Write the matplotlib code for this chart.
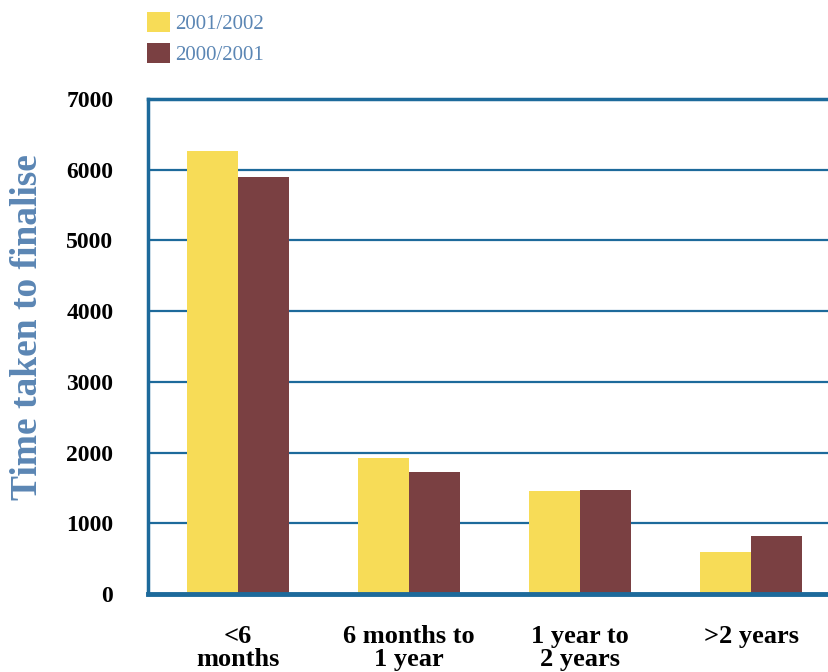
import matplotlib.pyplot as plt
import numpy as np
from matplotlib.patches import Patch

# Data
categories = ["<6\nmonths", "6 months to\n1 year", "1 year to\n2 years", ">2 years"]
series_names = ["2001/2002", "2000/2001"]
values_2001_2002 = [6260, 1930, 1450, 590]
values_2000_2001 = [5900, 1720, 1465, 815]
y_ticks = [0, 1000, 2000, 3000, 4000, 5000, 6000, 7000]

yellow = "#F7DC57"
maroon = "#7A4042"
blue = "#1D6A9B"
label_blue = "#5B86B4"

plt.rcParams['font.family'] = ['Liberation Serif', 'DejaVu Serif']

fig = plt.figure(figsize=(8.29, 6.72), dpi=100)
ax = fig.add_axes([148 / 829, 1 - 594 / 672, 1 - 148 / 829, (594 - 99) / 672])

x = np.arange(len(categories))
w = 0.3
ax.bar(x - w / 2, values_2001_2002, width=w, color=yellow, zorder=3)
ax.bar(x + w / 2, values_2000_2001, width=w, color=maroon, zorder=3)

ax.set_ylim(0, 7000)
ax.set_xlim(-0.526, 3.456)
ax.set_yticks(y_ticks)
ax.set_yticklabels([str(t) for t in y_ticks], fontsize=17, fontweight='bold')
ax.set_xticks(x)
ax.set_xticklabels(categories, fontsize=19, fontweight='bold', linespacing=1.0)
ax.tick_params(axis='y', length=0, pad=25)
ax.tick_params(axis='x', length=0, pad=22)

ax.yaxis.grid(True, color=blue, linewidth=1.6, zorder=0)
ax.set_axisbelow(True)
for side in ['left', 'top']:
    ax.spines[side].set_color(blue)
    ax.spines[side].set_linewidth(2.5)
ax.spines['right'].set_visible(False)
ax.spines['bottom'].set_color(blue)
ax.spines['bottom'].set_linewidth(3.5)
ax.spines['bottom'].set_zorder(4)

ax.set_ylabel("Time taken to finalise", fontsize=27, fontweight='bold',
              color=label_blue)
ax.yaxis.set_label_coords(-0.151, 0.539)

handles = [Patch(facecolor=yellow), Patch(facecolor=maroon)]
fig.legend(handles, series_names, loc='upper left',
           bbox_to_anchor=(147 / 829, 1 - 12 / 672), frameon=False,
           fontsize=15, labelcolor=label_blue, handlelength=1.1,
           handleheight=1.1, handletextpad=0.25, labelspacing=0.42,
           borderpad=0, borderaxespad=0)

fig.savefig("out.png", dpi=100)
